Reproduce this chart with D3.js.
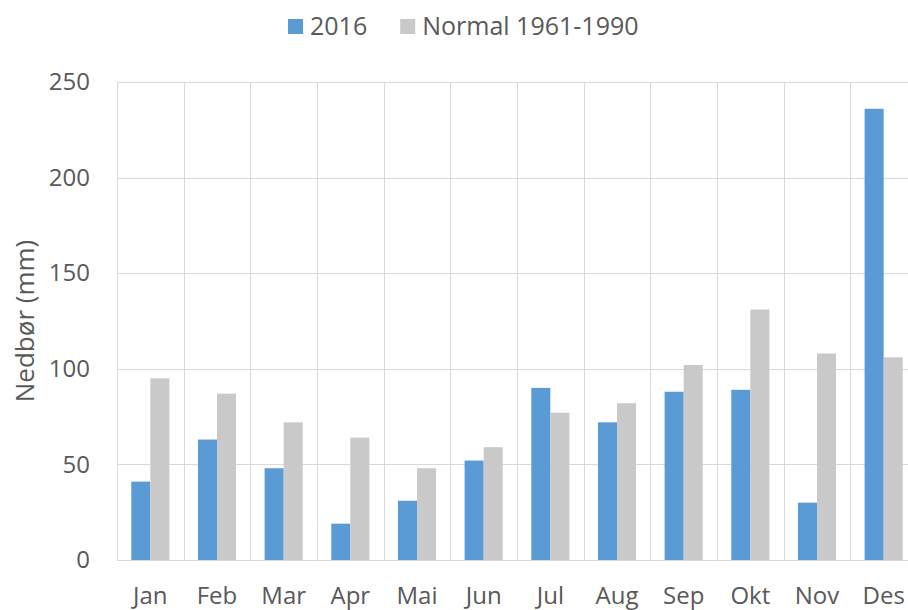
<!DOCTYPE html>
<html>
<head>
<meta charset="utf-8">
<script src="https://cdn.jsdelivr.net/npm/d3@7"></script>
<style>
  body { margin: 0; background: #fff; }
  svg { display: block; font-family: "Open Sans", sans-serif; }
</style>
</head>
<body>
<div id="chart"></div>
<script>
// data
const months = ['Jan', 'Feb', 'Mar', 'Apr', 'Mai', 'Jun', 'Jul', 'Aug', 'Sep', 'Okt', 'Nov', 'Des']
const series = ['2016', 'Normal 1961-1990']
const values2016 = [41, 63, 48, 19, 31, 52, 90, 72, 88, 89, 30, 236]
const valuesNormal = [95, 87, 72, 64, 48, 59, 77, 82, 102, 131, 108, 106]
const yTicks = [0, 50, 100, 150, 200, 250]

const width = 908
const height = 610
const margin = { top: 82, right: -9, bottom: 50, left: 117 }
const colors = ['#5b9bd5', '#c9c9c9']
const textColor = '#595959'
const gridColor = '#d9d9d9'

const svg = d3.select('#chart')
  .append('svg')
  .attr('width', width)
  .attr('height', height)

const x = d3.scaleBand()
  .domain(months)
  .range([margin.left, width - margin.right])

const xInner = d3.scaleBand()
  .domain(series)
  .range([0, x.bandwidth()])
  .paddingOuter(0.75)

const y = d3.scaleLinear()
  .domain([0, 250])
  .range([height - margin.bottom, margin.top])

// grid
const grid = svg.append('g').attr('class', 'grid')
grid.selectAll('line.h')
  .data(yTicks)
  .join('line')
  .attr('class', 'h')
  .attr('x1', margin.left)
  .attr('x2', width - margin.right)
  .attr('y1', d => Math.round(y(d)) + 0.5)
  .attr('y2', d => Math.round(y(d)) + 0.5)
  .attr('stroke', gridColor)

grid.selectAll('line.v')
  .data(months.concat(['end']))
  .join('line')
  .attr('class', 'v')
  .attr('x1', (d, i) => Math.round(margin.left + i * x.bandwidth()) + 0.5)
  .attr('x2', (d, i) => Math.round(margin.left + i * x.bandwidth()) + 0.5)
  .attr('y1', y(250))
  .attr('y2', y(0))
  .attr('stroke', gridColor)

// bars
const rows = months.map((m, i) => ({ month: m, vals: [values2016[i], valuesNormal[i]] }))
svg.append('g')
  .selectAll('g')
  .data(rows)
  .join('g')
  .attr('transform', d => `translate(${x(d.month)},0)`)
  .selectAll('rect')
  .data(d => d.vals.map((v, i) => ({ key: series[i], v, i })))
  .join('rect')
  .attr('x', d => xInner(d.key))
  .attr('width', xInner.bandwidth())
  .attr('y', d => y(d.v))
  .attr('height', d => y(0) - y(d.v))
  .attr('fill', d => colors[d.i])

// axes
const yAxis = svg.append('g')
  .attr('transform', `translate(${margin.left},0)`)
  .call(d3.axisLeft(y).tickValues(yTicks).tickSize(0).tickPadding(27))
yAxis.select('.domain').remove()
yAxis.selectAll('text')
  .attr('fill', textColor)
  .attr('font-size', 24)
  .attr('font-family', '"Open Sans", sans-serif')

const xAxis = svg.append('g')
  .attr('transform', `translate(0,${y(0)})`)
  .call(d3.axisBottom(x).tickSize(0).tickPadding(27))
xAxis.select('.domain').remove()
xAxis.selectAll('text')
  .attr('fill', textColor)
  .attr('font-size', 24)
  .attr('font-family', '"Open Sans", sans-serif')

// y title
svg.append('text')
  .attr('transform', `translate(34,${(y(0) + y(250)) / 2}) rotate(-90)`)
  .attr('text-anchor', 'middle')
  .attr('fill', textColor)
  .attr('font-size', 26)
  .text('Nedbør (mm)')

// legend
const legend = svg.append('g').attr('class', 'legend')
let lx = 288
series.forEach((s, i) => {
  legend.append('rect')
    .attr('x', lx)
    .attr('y', 19)
    .attr('width', 15)
    .attr('height', 15)
    .attr('fill', colors[i])
  const t = legend.append('text')
    .attr('x', lx + 22)
    .attr('y', 35)
    .attr('fill', textColor)
    .attr('font-size', 25)
    .text(s)
  lx += 22 + t.node().getComputedTextLength() + 33
})
</script>
</body>
</html>
